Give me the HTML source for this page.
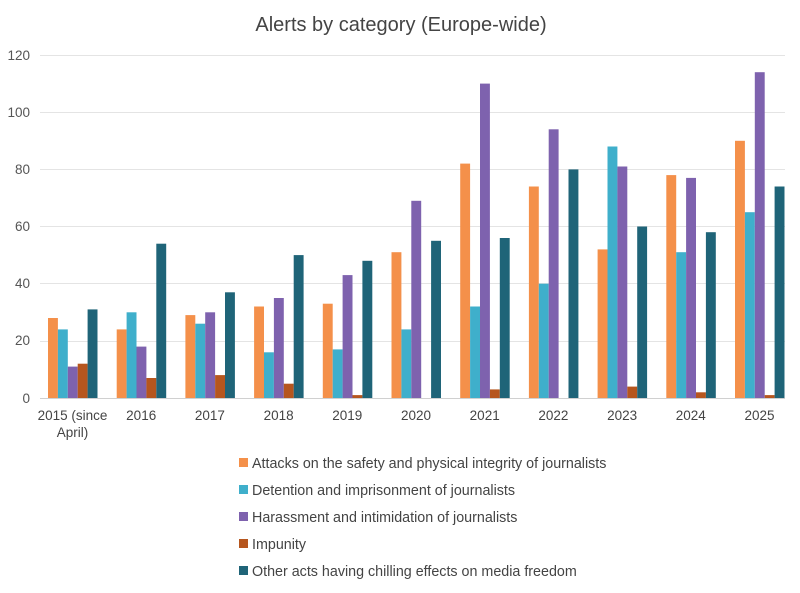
<!DOCTYPE html>
<html><head><meta charset="utf-8"><style>
body{margin:0;background:#fff}
svg{display:block;font-family:"Liberation Sans",sans-serif}
</style></head><body>
<svg width="800" height="593" viewBox="0 0 800 593">
<rect width="800" height="593" fill="#fff"/>
<text x="401" y="31" font-size="20" fill="#444" text-anchor="middle">Alerts by category (Europe-wide)</text>
<g stroke="#e4e4e4" stroke-width="1">
<line x1="40" x2="785" y1="55.5" y2="55.5"/><line x1="40" x2="785" y1="112.5" y2="112.5"/>
<line x1="40" x2="785" y1="169.5" y2="169.5"/><line x1="40" x2="785" y1="226.5" y2="226.5"/>
<line x1="40" x2="785" y1="283.5" y2="283.5"/><line x1="40" x2="785" y1="341.5" y2="341.5"/>
</g>
<line x1="40" x2="785" y1="398.5" y2="398.5" stroke="#d0d0d0"/>
<g font-size="13.5" fill="#555" text-anchor="end">
<text x="30" y="60">120</text><text x="30" y="117">100</text><text x="30" y="174">80</text>
<text x="30" y="231">60</text><text x="30" y="288">40</text><text x="30" y="345">20</text><text x="30" y="403">0</text>
</g>
<g id="bars"></g>
<g font-size="13.5" fill="#444" text-anchor="middle" id="xl"></g>
<g font-size="14.3" fill="#444">
<rect x="239" y="458" width="9" height="9" fill="#F4904A"/><text x="252" y="468">Attacks on the safety and physical integrity of journalists</text>
<rect x="239" y="485" width="9" height="9" fill="#3FAFCB"/><text x="252" y="495">Detention and imprisonment of journalists</text>
<rect x="239" y="512" width="9" height="9" fill="#7E62AE"/><text x="252" y="522">Harassment and intimidation of journalists</text>
<rect x="239" y="539" width="9" height="9" fill="#B6561E"/><text x="252" y="549">Impunity</text>
<rect x="239" y="566" width="9" height="9" fill="#1F6478"/><text x="252" y="576">Other acts having chilling effects on media freedom</text>
</g>
</svg>
<script>
var d=[[28,24,11,12,31],[24,30,18,7,54],[29,26,30,8,37],[32,16,35,5,50],[33,17,43,1,48],[51,24,69,0,55],[82,32,110,3,56],[74,40,94,0,80],[52,88,81,4,60],[78,51,77,2,58],[90,65,114,1,74]];
var c=["#F4904A","#3FAFCB","#7E62AE","#B6561E","#1F6478"];
var lab=["2015 (since","2016","2017","2018","2019","2020","2021","2022","2023","2024","2025"];
var s="",t="";
for(var g=0;g<11;g++){var x0=48+g*68.7;
for(var k=0;k<5;k++){var h=d[g][k]*2.858;if(h>0)s+='<rect x="'+(x0+k*9.9).toFixed(1)+'" y="'+(398-h).toFixed(1)+'" width="9.9" height="'+h.toFixed(1)+'" fill="'+c[k]+'"/>';}
t+='<text x="'+(x0+24.5).toFixed(1)+'" y="420">'+lab[g]+'</text>';}
t+='<text x="72.5" y="437">April)</text>';
document.getElementById("bars").innerHTML=s;document.getElementById("xl").innerHTML=t;
</script>
</body></html>
